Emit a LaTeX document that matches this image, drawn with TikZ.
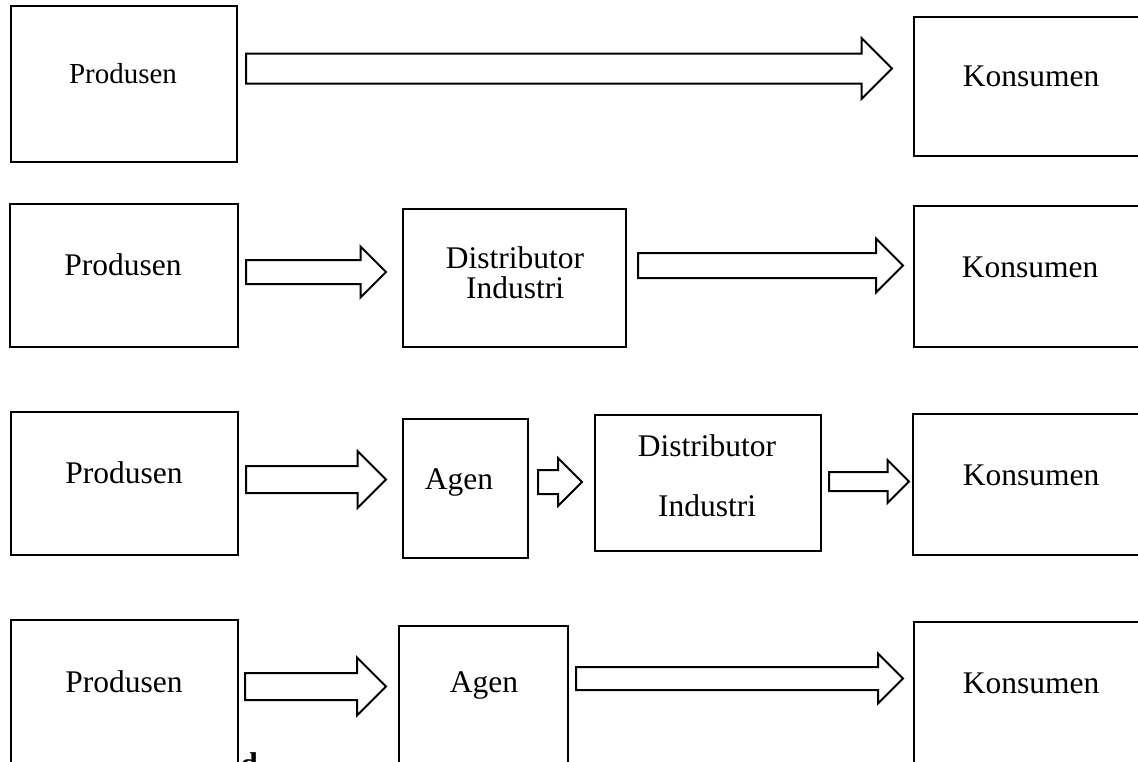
\documentclass[tikz,border=0pt]{standalone}
\usepackage{fontspec}
\setmainfont{Liberation Serif}
\usetikzlibrary{calc}

% hollow block arrow from tail #1 to tip #2 (same height), shaft half #3, head half #4
\newcommand{\fatarrow}[4]{%
  \draw[blockarrow] ($(#1)+(0,-#3)$) -- ($(#2)+(-#4,-#3)$) -- ($(#2)+(-#4,-#4)$)
    -- (#2) -- ($(#2)+(-#4,#4)$) -- ($(#2)+(-#4,#3)$) -- ($(#1)+(0,#3)$) -- cycle;}

\begin{document}
\begin{tikzpicture}[x=0.5pt,y=-0.5pt]
\tikzset{
  chainbox/.style={draw,line width=1pt,inner sep=0pt,outer sep=0pt},
  blockarrow/.style={draw,line width=1pt,line join=miter},
  lbl/.style={inner sep=0pt,anchor=base,font=\fontsize{15.75}{15}\selectfont},
  twoline/.style={inner sep=0pt,align=center,font=\fontsize{15.75}{#1}\selectfont}
}
\useasboundingbox (0,0) rectangle (1138,761);
\clip (0,0) rectangle (1138,761);

% row 1
\node[chainbox,minimum width=113pt,minimum height=78pt] (b_prod1) at (124,84) {};
\node[chainbox,minimum width=118pt,minimum height=69.5pt] (b_kons1) at (1032,86.5) {};
\node[lbl,font=\fontsize{14.5}{15}\selectfont] (t_prod1) at (123,83) {Produsen};
\node[lbl] (t_kons1) at (1031,86) {Konsumen};
\coordinate (a1_t) at (246,68.5); \coordinate (a1_h) at (892,68.5);
\fatarrow{a1_t}{a1_h}{15}{30.5}

% row 2
\node[chainbox,minimum width=114pt,minimum height=71.5pt] (b_prod2) at (124,275.5) {};
\node[chainbox,minimum width=111.5pt,minimum height=69pt] (b_dist2) at (514.5,278) {};
\node[chainbox,minimum width=118pt,minimum height=70.5pt] (b_kons2) at (1032,276.5) {};
\node[lbl] (t_prod2) at (123,275) {Produsen};
\node[twoline=15] (t_dist2) at (515,273) {Distributor\\Industri};
\node[lbl] (t_kons2) at (1030,277) {Konsumen};
\coordinate (a2_t) at (246,272); \coordinate (a2_h) at (386,272);
\fatarrow{a2_t}{a2_h}{12}{25.5}
\coordinate (a3_t) at (638,265.5); \coordinate (a3_h) at (903,265.5);
\fatarrow{a3_t}{a3_h}{12.5}{27}

% row 3
\node[chainbox,minimum width=113.5pt,minimum height=71.5pt] (b_prod3) at (124.5,483.5) {};
\node[chainbox,minimum width=62.5pt,minimum height=69.5pt] (b_agen3) at (465.5,488.5) {};
\node[chainbox,minimum width=113pt,minimum height=68pt] (b_dist3) at (708,483) {};
\node[chainbox,minimum width=118.5pt,minimum height=70.5pt] (b_kons3) at (1031.5,484.5) {};
\node[lbl] (t_prod3) at (124,483) {Produsen};
\node[lbl] (t_agen3) at (459,489) {Agen};
\node[twoline=30] (t_dist3) at (707,476) {Distributor\\Industri};
\node[lbl] (t_kons3) at (1031,485) {Konsumen};
\coordinate (a4_t) at (246,479.5); \coordinate (a4_h) at (386,479.5);
\fatarrow{a4_t}{a4_h}{13.5}{28.5}
\coordinate (a5_t) at (538,482); \coordinate (a5_h) at (582,482);
\fatarrow{a5_t}{a5_h}{12}{24}
\coordinate (a6_t) at (829,481.5); \coordinate (a6_h) at (909,481.5);
\fatarrow{a6_t}{a6_h}{9.5}{21.5}

% row 4
\node[chainbox,minimum width=113.5pt,minimum height=90pt] (b_prod4) at (124.5,710) {};
\node[chainbox,minimum width=84.5pt,minimum height=87pt] (b_agen4) at (483.5,713) {};
\node[chainbox,minimum width=118pt,minimum height=89pt] (b_kons4) at (1032,711) {};
\node[lbl] (t_prod4) at (124,692) {Produsen};
\node[lbl] (t_agen4) at (484,692) {Agen};
\node[lbl] (t_kons4) at (1031,693) {Konsumen};
\node[lbl,anchor=base west,font=\fontsize{15.75}{15}\selectfont\bfseries] (t_frag) at (240,774) {d};
\coordinate (a7_t) at (245,686.5); \coordinate (a7_h) at (386,686.5);
\fatarrow{a7_t}{a7_h}{13.5}{29}
\coordinate (a8_t) at (576,678.5); \coordinate (a8_h) at (903,678.5);
\fatarrow{a8_t}{a8_h}{11.5}{25}
\end{tikzpicture}
\end{document}
